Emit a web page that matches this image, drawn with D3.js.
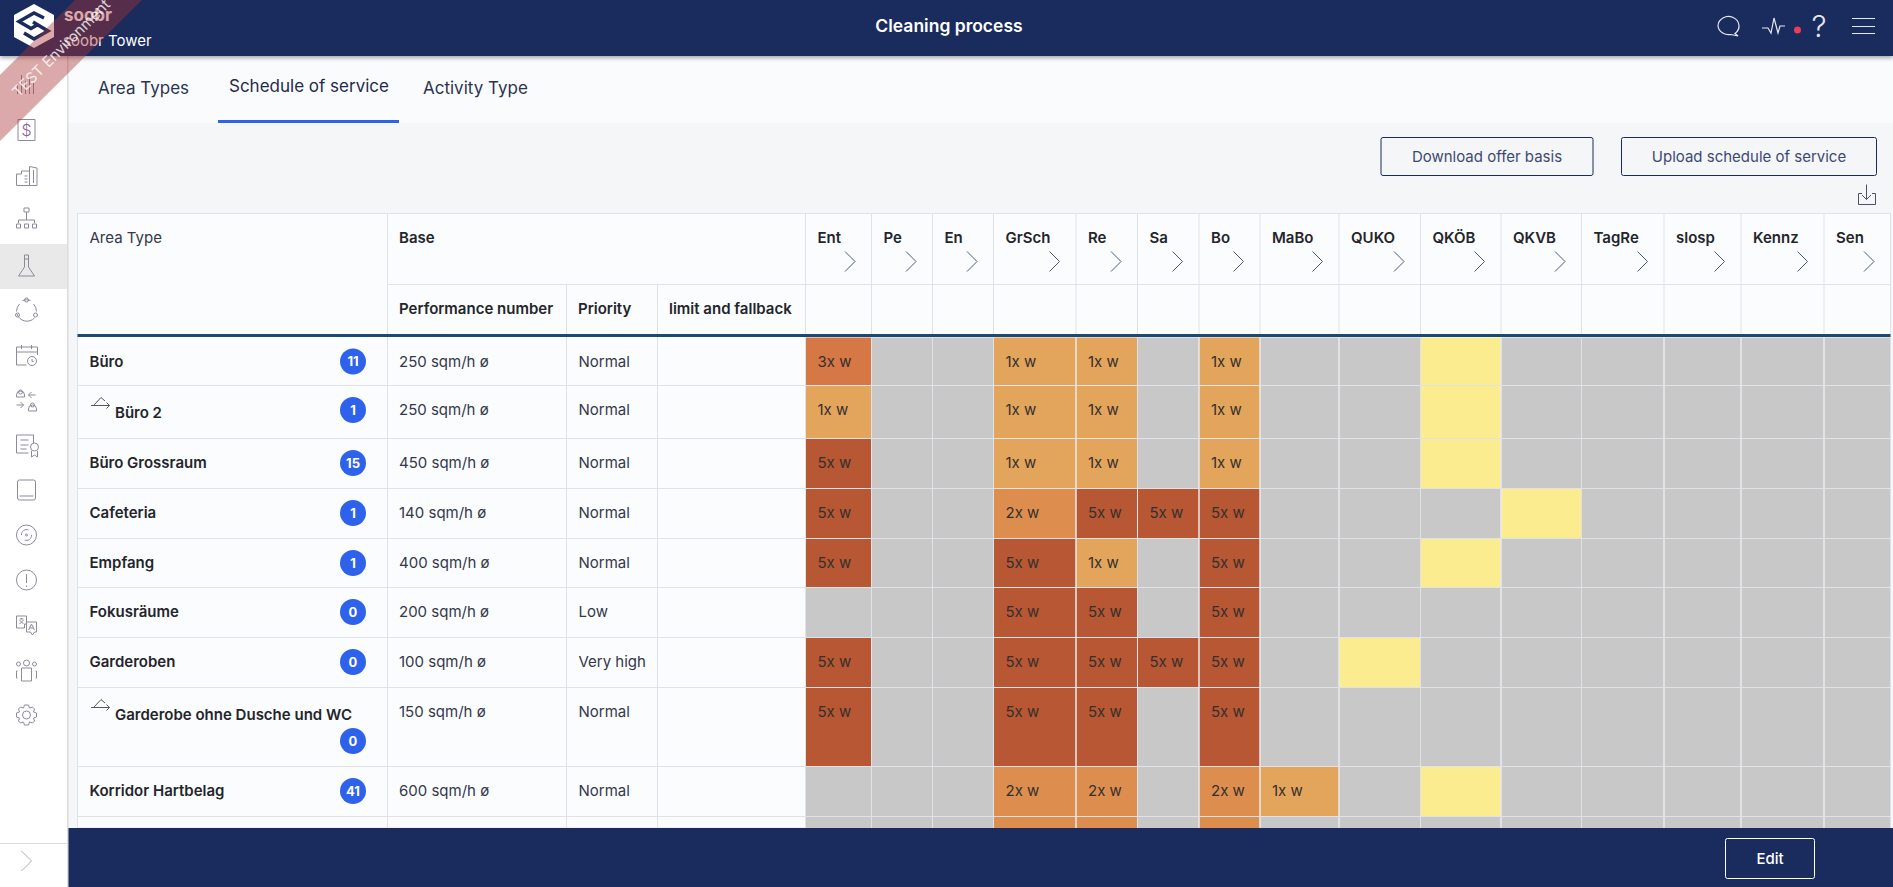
<!DOCTYPE html>
<html>
<head>
<meta charset="utf-8">
<title>Cleaning process</title>
<script src="https://cdn.jsdelivr.net/npm/d3@7"></script>
<style>
    html, body { margin: 0; padding: 0; background: #f5f6f8; overflow: hidden; }
    svg { display: block; font-family: Inter, "Noto Sans", sans-serif; }
    .icon { fill: none; stroke: #8b8b9b; stroke-width: 1; }
</style>
</head>
<body>
<div id="chart"></div>
<script>
// area types (rows)
const areaTypes = ["Büro", "Büro 2", "Büro Grossraum", "Cafeteria", "Empfang", "Fokusräume", "Garderoben", "Garderobe ohne Dusche und WC", "Korridor Hartbelag", ""];
const roomCounts = [11, 1, 15, 1, 1, 0, 0, 0, 41, null];
const linkedTypes = ["Büro 2", "Garderobe ohne Dusche und WC"];
const performance = ["250 sqm/h ø", "250 sqm/h ø", "450 sqm/h ø", "140 sqm/h ø", "400 sqm/h ø", "200 sqm/h ø", "100 sqm/h ø", "150 sqm/h ø", "600 sqm/h ø", ""];
const priorities = ["Normal", "Normal", "Normal", "Normal", "Normal", "Low", "Very high", "Normal", "Normal", ""];

// service columns
const services = ["Ent", "Pe", "En", "GrSch", "Re", "Sa", "Bo", "MaBo", "QUKO", "QKÖB", "QKVB", "TagRe", "slosp", "Kennz", "Sen"];
const baseColumns = ["Performance number", "Priority", "limit and fallback"];

// frequency per row, one entry per service. "" = not planned, "q" = quality check
const frequencies = [
    ["3x w", "", "", "1x w", "1x w", "", "1x w", "", "", "q", "", "", "", "", ""],
    ["1x w", "", "", "1x w", "1x w", "", "1x w", "", "", "q", "", "", "", "", ""],
    ["5x w", "", "", "1x w", "1x w", "", "1x w", "", "", "q", "", "", "", "", ""],
    ["5x w", "", "", "2x w", "5x w", "5x w", "5x w", "", "", "", "q", "", "", "", ""],
    ["5x w", "", "", "5x w", "1x w", "", "5x w", "", "", "q", "", "", "", "", ""],
    ["", "", "", "5x w", "5x w", "", "5x w", "", "", "", "", "", "", "", ""],
    ["5x w", "", "", "5x w", "5x w", "5x w", "5x w", "", "q", "", "", "", "", "", ""],
    ["5x w", "", "", "5x w", "5x w", "", "5x w", "", "", "", "", "", "", "", ""],
    ["", "", "", "2x w", "2x w", "", "2x w", "1x w", "", "q", "", "", "", "", ""],
    ["", "", "", "2x w", "2x w", "", "2x w", "", "", "", "", "", "", "", ""]
];

const frequencyKeys = ["", "q", "1x w", "2x w", "3x w", "5x w"];
const frequencyColors = ["#c8c8c8", "#faec8f", "#e3a45c", "#dd8e4f", "#d57845", "#b75733"];

// layout of the table: edges of the columns and rows in pixels
const colEdges = [805.5, 871.5, 932.5, 993.5, 1076, 1137.5, 1199, 1260, 1339, 1420.5, 1501, 1581.5, 1664, 1741, 1824, 1890.5];
const rowEdges = [337, 385.5, 438.5, 488.5, 538.5, 587.5, 637.5, 687.5, 766.5, 816.5, 866.5];
const baseEdges = [387.5, 566.5, 657.5, 805.5];

const width = 1893;
const height = 887;
const tableLeft = 77.5;
const tableTop = 213.5;
const subHeaderTop = 284.5;
const footerTop = 828;
const navy = "#1a2b5d";
const lineColor = "#dfe2e8";
const textColor = "#23252b";

const svg = d3.select("#chart").append("svg")
    .attr("width", width)
    .attr("height", height);

const xScale = d3.scaleLinear().domain(d3.range(colEdges.length)).range(colEdges);
const yScale = d3.scaleLinear().domain(d3.range(rowEdges.length)).range(rowEdges);
const colorScale = d3.scaleOrdinal().domain(frequencyKeys).range(frequencyColors);

function label(parent, x, y, text, size, weight, fill, anchor) {
    return parent.append("text")
        .attr("x", x)
        .attr("y", y)
        .attr("dy", "0.36em")
        .attr("font-size", size)
        .attr("font-weight", weight || 400)
        .attr("fill", fill || textColor)
        .attr("text-anchor", anchor || "start")
        .text(text);
}

function chevron(parent, x, y, h, color) {
    parent.append("path")
        .attr("d", "M" + x + "," + (y - h) + "L" + (x + h) + "," + y + "L" + x + "," + (y + h))
        .attr("fill", "none")
        .attr("stroke", color || "#4a5878")
        .attr("stroke-width", 1);
}

// ---- tabs and toolbar ----
svg.append("rect").attr("x", 68).attr("y", 56).attr("width", width - 68).attr("height", 67).attr("fill", "#fafbfd");
svg.append("rect").attr("x", 218).attr("y", 120).attr("width", 181).attr("height", 3).attr("fill", "#2f62ea");
label(svg, 98, 88, "Area Types", 17, 400, "#2b3350");
label(svg, 229, 86, "Schedule of service", 17, 400, "#1f2a4d");
label(svg, 423, 88, "Activity Type", 17, 400, "#2b3350");

[["Download offer basis", 1381, 1593], ["Upload schedule of service", 1621.5, 1876.5]].forEach(function (b) {
    svg.append("rect")
        .attr("x", b[1]).attr("y", 137.5)
        .attr("width", b[2] - b[1]).attr("height", 38)
        .attr("rx", 2)
        .attr("fill", "none")
        .attr("stroke", navy);
    label(svg, (b[1] + b[2]) / 2, 156.5, b[0], 15, 400, "#3d4a70", "middle");
});

svg.append("path")
    .attr("d", "M1862,193.5H1858.5V204.5H1875.5V193.5H1872M1866.5,184.5V199.5M1862,195L1866.5,199.5L1871,195")
    .attr("fill", "none")
    .attr("stroke", "#4b4f78");

// ---- table ----
const table = svg.append("g");

table.append("rect")
    .attr("x", tableLeft).attr("y", tableTop)
    .attr("width", colEdges[colEdges.length - 1] - tableLeft)
    .attr("height", footerTop - tableTop)
    .attr("fill", "#fbfcfe")
    .attr("stroke", lineColor);

// frequency cells
const rowsG = table.selectAll(".row")
    .data(frequencies)
    .join("g")
    .attr("class", "row");

rowsG.selectAll("rect")
    .data(function (d, i) { return d.map(function (v, j) { return { value: v, row: i, col: j }; }); })
    .join("rect")
    .attr("x", function (d) { return xScale(d.col) + 0.5; })
    .attr("y", function (d) { return yScale(d.row) + 0.5; })
    .attr("width", function (d) { return xScale(d.col + 1) - xScale(d.col) - 1; })
    .attr("height", function (d) { return yScale(d.row + 1) - yScale(d.row) - 1; })
    .attr("fill", function (d) { return colorScale(d.value); });

// grid lines
const hLines = rowEdges.slice(1, -1);
table.selectAll(".hline")
    .data(hLines)
    .join("line")
    .attr("class", "hline")
    .attr("x1", tableLeft).attr("x2", colEdges[colEdges.length - 1])
    .attr("y1", function (d) { return d; }).attr("y2", function (d) { return d; })
    .attr("stroke", lineColor);

table.selectAll(".vline")
    .data(colEdges)
    .join("line")
    .attr("class", "vline")
    .attr("x1", function (d) { return d; }).attr("x2", function (d) { return d; })
    .attr("y1", tableTop).attr("y2", footerTop)
    .attr("stroke", lineColor);

table.selectAll(".baseline")
    .data(baseEdges.slice(1, 3))
    .join("line")
    .attr("class", "baseline")
    .attr("x1", function (d) { return d; }).attr("x2", function (d) { return d; })
    .attr("y1", subHeaderTop).attr("y2", footerTop)
    .attr("stroke", lineColor);

table.append("line")
    .attr("x1", baseEdges[0]).attr("x2", baseEdges[0])
    .attr("y1", tableTop).attr("y2", footerTop)
    .attr("stroke", lineColor);

table.append("line")
    .attr("x1", baseEdges[0]).attr("x2", colEdges[colEdges.length - 1])
    .attr("y1", subHeaderTop).attr("y2", subHeaderTop)
    .attr("stroke", lineColor);

// header texts
label(table, 89.5, 238, "Area Type", 15, 400, "#33384a");
label(table, 399, 238, "Base", 15, 600);
baseColumns.forEach(function (name, i) {
    label(table, baseEdges[i] + 11.5, 309, name, 15, 600);
});
services.forEach(function (name, i) {
    label(table, xScale(i) + 12, 238, name, 15, 600);
    chevron(table, xScale(i + 1) - 26.5, 261.5, 10);
});

// thick line under the header
table.append("rect")
    .attr("x", tableLeft).attr("y", 334)
    .attr("width", colEdges[colEdges.length - 1] - tableLeft).attr("height", 3)
    .attr("fill", "#1c4874");

// row texts
const textOffset = 24.5;
areaTypes.forEach(function (name, i) {
    if (!name) return;
    const y = yScale(i) + textOffset;
    const linked = linkedTypes.indexOf(name) >= 0;
    label(table, linked ? 115 : 89.5, y + (linked ? 3 : 0), name, 15, 600);
    if (linked) {
        table.append("path")
            .attr("d", "M91," + (y - 4.5) + "H109.5M106.5," + (y - 7.5) + "L109.5," + (y - 4.5) + "L106.5," + (y - 1.5)
                + "M94," + (y - 5) + "L101," + (y - 12.5) + "L105," + (y - 9) )
            .attr("fill", "none")
            .attr("stroke", "#55586a");
    }
    label(table, baseEdges[0] + 11.5, y, performance[i], 15, 400, "#33384a");
    label(table, baseEdges[1] + 12, y, priorities[i], 15, 400, "#33384a");

    const badgeY = name === "Garderobe ohne Dusche und WC" ? y + 29 : y;
    table.append("circle")
        .attr("cx", 353).attr("cy", badgeY).attr("r", 13)
        .attr("fill", "#2f62ea");
    label(table, 353, badgeY, roomCounts[i], 13, 700, "#ffffff", "middle");

    frequencies[i].forEach(function (v, j) {
        if (v && v !== "q") label(table, xScale(j) + 12, y, v, 15, 400, "#33302e");
    });
});

// ---- footer ----
svg.append("rect").attr("x", 68).attr("y", footerTop).attr("width", width - 68).attr("height", height - footerTop).attr("fill", navy);
svg.append("rect")
    .attr("x", 1725.5).attr("y", 838.5).attr("width", 89).attr("height", 40).attr("rx", 2)
    .attr("fill", "none").attr("stroke", "#ffffff");
label(svg, 1770, 858.5, "Edit", 15, 500, "#ffffff", "middle");

// ---- sidebar ----
svg.append("rect").attr("x", 0).attr("y", 56).attr("width", 67).attr("height", height - 56).attr("fill", "#ffffff");
svg.append("rect").attr("x", 67).attr("y", 56).attr("width", 1.5).attr("height", height - 56).attr("fill", "#dcdcdc");
svg.append("rect").attr("x", 0).attr("y", 244).attr("width", 67).attr("height", 45).attr("fill", "#e9e9e9");
svg.append("line").attr("x1", 0).attr("x2", 67).attr("y1", 843.5).attr("y2", 843.5).attr("stroke", "#dcdcdc");
chevron(svg, 21.5, 861, 10, "#a9adb8");

const iconPaths = [
    [85, "M-9,9V0M-5,9V-10M-1,9V-4M3,9V-8M7,9V-2"],
    [130, "M-8.5,-10.5H8.5V10.5H-8.5Z"],
    [176, "M-10,9.5V-2H-5V-5H3V9.5ZM3,-5V-9.5L10.5,-8V9.5H3M-2,0H1M-2,3H1M-2,6H1M7,-6V7"],
    [219, "M-2.5,-7V-11H2.5V-7ZM0,-7V1M-8,1H8M-8,1V4M8,1V4M-10,5H-6V9H-10ZM-2,5H2V9H-2ZM6,5H10V9H6Z"],
    [265, "M-2,-10H2V2L8,11H-8L-2,2ZM-2,-6H2"],
    [310, "M-4,-9.5A10.5,10.5 0 0 1 4,-9.5M-9.5,4A10.5,10.5 0 0 0 8,8M-10,1.5A10.5,10.5 0 0 1 -7,-6M10,1.5A10.5,10.5 0 0 0 7,-6M-2,-10a2,2 0 1 0 4,0a2,2 0 1 0 -4,0M7,5a2,2 0 1 0 4,0a2,2 0 1 0 -4,0M-11,5a2,2 0 1 0 4,0a2,2 0 1 0 -4,0"],
    [356, "M-10,-4H11M-10,-9H11V-1M-10,-9V9H0M-5,-11V-7M5,-11V-7M1,5a4.5,4.5 0 1 0 9,0a4.5,4.5 0 1 0 -9,0M5.5,3V5.5H7"],
    [400, "M-10,-3H-2V-5A4,4 0 0 0 -10,-5ZM-8,-8a2,2 0 1 0 4,0a2,2 0 1 0 -4,0M2,11H10V9A4,4 0 0 0 2,9ZM4,5a2,2 0 1 0 4,0a2,2 0 1 0 -4,0M9,-5H2L5,-8M2,-5L5,-2M-10,5H-3L-6,2M-3,5L-6,8"],
    [445, "M7,-2V-10H-10V8H2M-6,-5H2M-6,0H2M-6,4H0M4,2a4,4 0 1 0 8,0a4,4 0 1 0 -8,0M5,6V12L8,10L11,12V6"],
    [490, "M-9,-8a2,2 0 0 1 2,-2H7a2,2 0 0 1 2,2V8a2,2 0 0 1 -2,2H-7a2,2 0 0 1 -2,-2ZM-7,6H7"],
    [535, "M-10,0a10,10 0 1 0 20,0a10,10 0 1 0 -20,0M-5,0a5,5 0 0 1 7,-5M5,0a5,5 0 0 1 -7,5M-1,0a1,1 0 1 0 2,0a1,1 0 1 0 -2,0"],
    [580, "M-10,0a10,10 0 1 0 20,0a10,10 0 1 0 -20,0M0,-6V3M0,5.5V7"],
    [625, "M-10,-9H0V-1H-2V3L-6,3H-10ZM0,-3H10V7H8L6,10L4,7H0ZM-7,-6H-3M-5,-7V-6M-7,-1L-3,-5M-7,-5L-3,-1M2,5L5,-1L8,5M3,3H7"],
    [671, "M-10,-7a2,2 0 1 0 4,0a2,2 0 1 0 -4,0M-3,-8a3,3 0 1 0 6,0a3,3 0 1 0 -6,0M6,-7a2,2 0 1 0 4,0a2,2 0 1 0 -4,0M-5,-3H5V10H-5ZM-9,0H-10V7H-9M9,0H10V7H9"],
    [715, "M-4,0a4,4 0 1 0 8,0a4,4 0 1 0 -8,0M-2,-10H2L3,-7L6,-8L8,-6L7,-3L10,-2V2L7,3L8,6L6,8L3,7L2,10H-2L-3,7L-6,8L-8,6L-7,3L-10,2V-2L-7,-3L-8,-6L-6,-8L-3,-7Z"]
];
svg.selectAll(".icon")
    .data(iconPaths)
    .join("path")
    .attr("class", "icon")
    .attr("transform", function (d) { return "translate(26.5," + d[0] + ")"; })
    .attr("d", function (d) { return d[1]; });
label(svg, 26.5, 130, "$", 16, 300, "#8b5f9b", "middle");

// ---- header ----
svg.append("rect")
    .attr("width", width).attr("height", 56)
    .attr("fill", navy)
    .style("filter", "drop-shadow(0px 2px 2px rgba(0,0,0,0.35))");

// logo
svg.append("path").attr("d", "M34,4L54,15V37L34,48L14,37V15Z").attr("fill", "#ffffff");
svg.append("path")
    .attr("d", "M44,18L34,13L19,21.5L31,28.5L38,24.5M24,33L34,39L48,31L33,22")
    .attr("fill", "none").attr("stroke", navy).attr("stroke-width", 3.5);
label(svg, 64, 15, "soobr", 17, 700, "#ffffff");
label(svg, 63, 41, "soobr Tower", 15, 400, "#ffffff");

label(svg, 949, 26, "Cleaning process", 17.5, 600, "#ffffff", "middle");

const headIcons = svg.append("g").attr("fill", "none").attr("stroke", "#e6e8ef").attr("stroke-width", 1.2);
headIcons.append("path").attr("d", "M1718,26a10.5,9.5 0 1 1 17,7.5L1738,36L1731,34.5A11,9.5 0 0 1 1718,26Z");
headIcons.append("path").attr("d", "M1762,28H1768L1771,33L1774,18L1778,33L1780,26H1785");
headIcons.append("path").attr("d", "M1852,18.5H1875M1852,26.5H1875M1852,33.5H1875");
svg.append("circle").attr("cx", 1797.5).attr("cy", 30).attr("r", 3.5).attr("fill", "#ea3d56");
label(svg, 1819, 26.5, "?", 30, 300, "#e6e8ef", "middle");

// ---- test ribbon ----
svg.append("path")
    .attr("d", "M75,0H142L0,141V75Z")
    .attr("fill", "rgb(170,50,50)")
    .attr("fill-opacity", 0.42);
svg.append("text")
    .attr("transform", "translate(61,48) rotate(-45)")
    .attr("text-anchor", "middle")
    .attr("dy", "0.36em")
    .attr("font-size", 15)
    .attr("fill", "#ffffff")
    .attr("fill-opacity", 0.8)
    .text("TEST Environment");
</script>
</body>
</html>
